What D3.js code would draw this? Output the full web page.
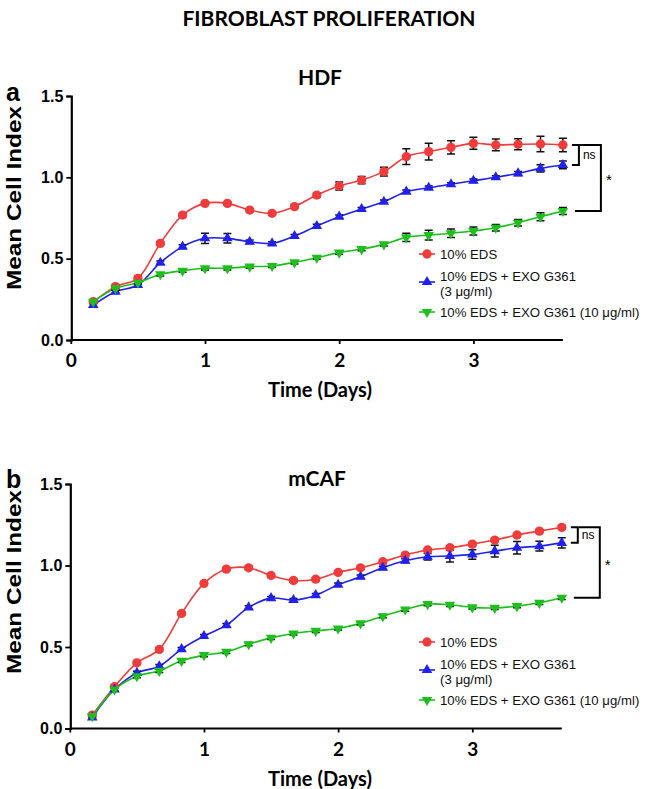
<!DOCTYPE html>
<html>
<head>
<meta charset="utf-8">
<script src="https://cdn.jsdelivr.net/npm/d3@7"></script>
<style>
  html, body { margin: 0; padding: 0; background: #ffffff; }
  svg { display: block; }
</style>
</head>
<body>
<svg id="chart" width="645" height="789"></svg>
<script>
// ---------------- DATA ----------------
const days = [0.167, 0.333, 0.5, 0.667, 0.833, 1.0, 1.167, 1.333, 1.5, 1.667, 1.833,
              2.0, 2.167, 2.333, 2.5, 2.667, 2.833, 3.0, 3.167, 3.333, 3.5, 3.667];

const xTicks = [0, 1, 2, 3];
const yTicks = [0.0, 0.5, 1.0, 1.5];

const seriesNames = [["10% EDS"], ["10% EDS + EXO G361", "(3 \u03bcg/ml)"], ["10% EDS + EXO G361 (10 \u03bcg/ml)"]];

// HDF panel (a)
const hdfEDS     = [0.235, 0.328, 0.379, 0.594, 0.768, 0.840, 0.840, 0.799, 0.779, 0.820, 0.891,
                    0.947, 0.983, 1.035, 1.127, 1.158, 1.184, 1.209, 1.199, 1.203, 1.205, 1.199];
const hdfEDSErr  = [0.01, 0.01, 0.015, 0.01, 0.01, 0.01, 0.01, 0.01, 0.01, 0.01, 0.012,
                    0.025, 0.022, 0.027, 0.048, 0.051, 0.041, 0.037, 0.036, 0.034, 0.047, 0.042];
const hdfExo3    = [0.215, 0.297, 0.338, 0.475, 0.574, 0.625, 0.625, 0.604, 0.594, 0.639, 0.701,
                    0.758, 0.805, 0.850, 0.912, 0.936, 0.957, 0.979, 1.000, 1.024, 1.055, 1.076];
const hdfExo3Err = [0.01, 0.01, 0.01, 0.01, 0.012, 0.031, 0.029, 0.01, 0.01, 0.01, 0.01,
                    0.01, 0.01, 0.01, 0.01, 0.01, 0.01, 0.01, 0.01, 0.012, 0.022, 0.024];
const hdfExo10   = [0.235, 0.318, 0.352, 0.404, 0.426, 0.441, 0.441, 0.451, 0.455, 0.477, 0.506,
                    0.537, 0.559, 0.588, 0.631, 0.645, 0.656, 0.670, 0.690, 0.721, 0.758, 0.793];
const hdfExo10Err= [0.01, 0.01, 0.01, 0.01, 0.01, 0.01, 0.01, 0.01, 0.01, 0.01, 0.01,
                    0.01, 0.01, 0.01, 0.025, 0.03, 0.026, 0.025, 0.02, 0.02, 0.025, 0.022];

// mCAF panel (b)
const cafEDS     = [0.082, 0.256, 0.403, 0.485, 0.706, 0.890, 0.978, 0.986, 0.939, 0.908, 0.916,
                    0.958, 0.986, 1.023, 1.064, 1.095, 1.109, 1.131, 1.156, 1.187, 1.211, 1.234];
const cafEDSErr  = [0.01, 0.01, 0.01, 0.01, 0.01, 0.01, 0.01, 0.01, 0.01, 0.01, 0.01,
                    0.01, 0.01, 0.01, 0.01, 0.01, 0.01, 0.01, 0.01, 0.01, 0.01, 0.012];
const cafExo3    = [0.068, 0.239, 0.341, 0.382, 0.487, 0.567, 0.634, 0.743, 0.800, 0.788, 0.818,
                    0.882, 0.931, 0.986, 1.029, 1.054, 1.058, 1.068, 1.088, 1.109, 1.119, 1.139];
const cafExo3Err = [0.01, 0.01, 0.01, 0.01, 0.01, 0.01, 0.01, 0.01, 0.01, 0.01, 0.01,
                    0.01, 0.01, 0.01, 0.012, 0.02, 0.036, 0.029, 0.036, 0.038, 0.03, 0.031];
const cafExo10   = [0.076, 0.239, 0.321, 0.354, 0.415, 0.450, 0.470, 0.517, 0.556, 0.583, 0.599,
                    0.614, 0.645, 0.689, 0.730, 0.763, 0.759, 0.743, 0.740, 0.751, 0.771, 0.802];
const cafExo10Err= [0.01, 0.01, 0.01, 0.01, 0.01, 0.01, 0.01, 0.01, 0.01, 0.01, 0.01,
                    0.01, 0.01, 0.01, 0.01, 0.01, 0.01, 0.01, 0.01, 0.01, 0.01, 0.01];

// ---------------- STYLE ----------------
const colors = ["#f23b3b", "#2020f2", "#1cbf1c"];
const symbols = ["circle", "up", "down"];
const ARIAL = "'Liberation Sans', Arial, sans-serif";
const CAL = "Lato, 'Open Sans', sans-serif";

const svg = d3.select("#chart");

svg.append("text")
  .attr("x", 329).attr("y", 26)
  .attr("text-anchor", "middle")
  .style("font-family", CAL).style("font-weight", "700").style("font-size", "21px")
  .text("FIBROBLAST PROLIFERATION");

function symbolPath(kind) {
  if (kind === "circle") return d3.symbol(d3.symbolCircle, 68)();
  return d3.symbol(d3.symbolTriangle, 48)();
}

function drawPanel(cfg) {
  const x = d3.scaleLinear().domain([0, days[days.length - 1]]).range([cfg.x0, cfg.x1]);
  const y = d3.scaleLinear().domain([0, 1.5]).range([cfg.yBottom, cfg.yTop]);
  const g = svg.append("g");

  // panel label and title
  g.append("text").attr("x", 6).attr("y", cfg.labelY)
    .style("font-family", ARIAL).style("font-weight", "700").style("font-size", "25px")
    .text(cfg.label);
  g.append("text").attr("x", cfg.titleX).attr("y", cfg.titleY)
    .attr("text-anchor", "middle")
    .style("font-family", CAL).style("font-weight", "700").style("font-size", "21px")
    .text(cfg.title);

  // Y axis
  const yAxis = d3.axisLeft(y).tickValues(yTicks).tickFormat(d3.format(".1f")).tickSize(5).tickPadding(3);
  const ya = g.append("g").attr("transform", `translate(${cfg.x0 + 0.5},0)`).call(yAxis);
  ya.select(".domain").attr("stroke", "#000").attr("stroke-width", 2.2);
  ya.selectAll(".tick line").attr("stroke", "#000").attr("stroke-width", 1.8);
  ya.selectAll(".tick text")
    .style("font-family", ARIAL).style("font-weight", "700").style("font-size", "16px").attr("fill", "#000");

  // X axis
  const xAxis = d3.axisBottom(x).tickValues(xTicks).tickFormat(d3.format("d")).tickSize(4).tickPadding(10);
  const xa = g.append("g").attr("transform", `translate(0,${cfg.yBottom})`).call(xAxis);
  xa.select(".domain").attr("stroke", "#000").attr("stroke-width", 2.2)
    .attr("d", `M${cfg.x0},0H${cfg.x1}`);
  xa.selectAll(".tick line").attr("stroke", "#000").attr("stroke-width", 1.8);
  xa.selectAll(".tick text")
    .style("font-family", CAL).style("font-weight", "700").style("font-size", "19px").attr("fill", "#000");

  // axis titles
  g.append("text")
    .attr("transform", `translate(21,${cfg.yTitleC}) rotate(-90)`)
    .attr("text-anchor", "middle")
    .attr("textLength", 184).attr("lengthAdjust", "spacingAndGlyphs")
    .style("font-family", ARIAL).style("font-weight", "700").style("font-size", "21px")
    .text("Mean Cell Index");
  g.append("text")
    .attr("x", 320).attr("y", cfg.yBottom + 57)
    .attr("text-anchor", "middle")
    .style("font-family", CAL).style("font-weight", "700").style("font-size", "20px")
    .text("Time (Days)");

  const line = d3.line().x((d, i) => x(days[i])).y(d => y(d)).curve(d3.curveCatmullRom.alpha(0.5));

  cfg.series.forEach((s, k) => {
    g.append("path").attr("d", line(s.values))
      .attr("fill", "none").attr("stroke", colors[k]).attr("stroke-width", 1.6);
  });
  // error bars
  cfg.series.forEach((s) => {
    const eg = g.append("g").attr("stroke", "#111").attr("stroke-width", 1.5).attr("fill", "none");
    s.values.forEach((v, i) => {
      const cx = x(days[i]);
      const yl = y(v - s.err[i]), yh = y(v + s.err[i]);
      eg.append("path").attr("d", `M${cx},${yl}V${yh}M${cx - 4},${yh}H${cx + 4}M${cx - 4},${yl}H${cx + 4}`);
    });
  });
  // markers
  cfg.series.forEach((s, k) => {
    const sym = symbolPath(symbols[k]);
    const rot = symbols[k] === "down" ? " rotate(180)" : "";
    s.values.forEach((v, i) => {
      g.append("path").attr("d", sym)
        .attr("transform", `translate(${x(days[i])},${y(v)})${rot}`)
        .attr("fill", colors[k]);
    });
  });

  // significance brackets
  const last = days.length - 1;
  const yR = y(cfg.series[0].values[last]);
  const yB = y(cfg.series[1].values[last]);
  const yG = y(cfg.series[2].values[last]);
  const br = g.append("g").attr("stroke", "#000").attr("stroke-width", 2).attr("fill", "none");
  const nx = cfg.x1 + 16;
  br.append("path").attr("d", `M${cfg.x1 + 9},${yR}H${nx}V${yB}H${cfg.x1 + 9}`);
  const sx = cfg.x1 + 38;
  br.append("path").attr("d", `M${nx + 1},${yR}H${sx}V${yG}H${cfg.x1 + 12}`);
  g.append("text").attr("x", nx + 4).attr("y", (yR + yB) / 2 + 4)
    .style("font-family", ARIAL).style("font-size", "12px").text("ns");
  g.append("text").attr("x", sx + 5).attr("y", (yR + yG) / 2 + 7)
    .style("font-family", ARIAL).style("font-size", "15px").text("*");

  // legend
  const lg = g.append("g");
  const markerY = [cfg.yTop + 158, cfg.yTop + 186, cfg.yTop + 216];
  const textY = [cfg.yTop + 163, cfg.yTop + 184.5, cfg.yTop + 221];
  seriesNames.forEach((parts, k) => {
    const my = markerY[k];
    lg.append("line").attr("x1", 419).attr("x2", 435).attr("y1", my).attr("y2", my)
      .attr("stroke", colors[k]).attr("stroke-width", 1.6);
    const rot = symbols[k] === "down" ? " rotate(180)" : "";
    lg.append("path").attr("d", symbolPath(symbols[k]))
      .attr("transform", `translate(427,${my})${rot}`).attr("fill", colors[k]);
    parts.forEach((p, j) => {
      lg.append("text").attr("x", 440).attr("y", textY[k] + j * 15.3)
        .style("font-family", ARIAL).style("font-size", "13.2px").attr("fill", "#111")
        .text(p);
    });
  });
}

drawPanel({
  label: "a", labelY: 101, title: "HDF", titleX: 320, titleY: 85,
  x0: 70.8, x1: 562.9, yTop: 96, yBottom: 340, yTitleC: 198,
  series: [
    { values: hdfEDS, err: hdfEDSErr },
    { values: hdfExo3, err: hdfExo3Err },
    { values: hdfExo10, err: hdfExo10Err }
  ]
});

drawPanel({
  label: "b", labelY: 488, title: "mCAF", titleX: 317, titleY: 486,
  x0: 69.8, x1: 561.8, yTop: 484, yBottom: 728.5, yTitleC: 582,
  series: [
    { values: cafEDS, err: cafEDSErr },
    { values: cafExo3, err: cafExo3Err },
    { values: cafExo10, err: cafExo10Err }
  ]
});
</script>
</body>
</html>
